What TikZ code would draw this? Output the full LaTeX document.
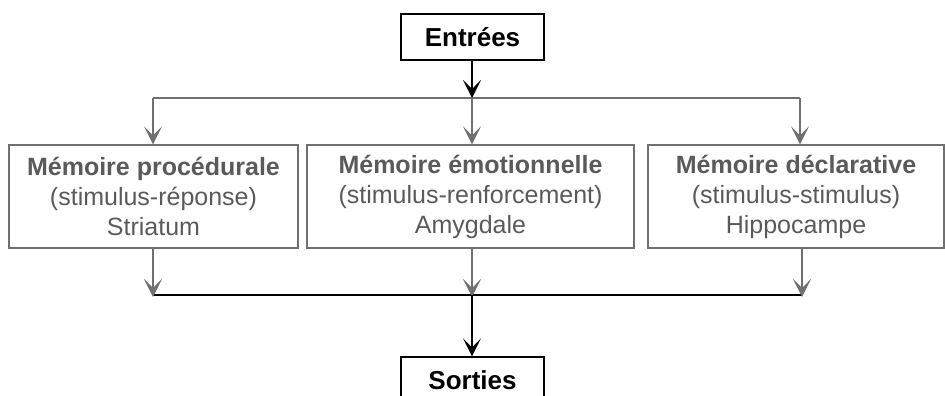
\documentclass[tikz,border=0pt]{standalone}
\usepackage{fontspec}
\setmainfont{Liberation Sans}
\usetikzlibrary{arrows.meta}
\definecolor{lg}{HTML}{707070}
\definecolor{tg}{HTML}{5A5A5A}
\begin{document}
\begin{tikzpicture}[x=1pt,y=-1pt,
  io/.style={draw=black,line width=1.3pt,inner sep=0pt,minimum width=143pt,minimum height=46pt,font=\fontsize{26}{28}\selectfont\bfseries},
  mem/.style={draw=lg,line width=1.3pt,inner sep=0pt,minimum height=103pt,text=tg,align=center,font=\fontsize{25}{30}\selectfont},
  arr/.style={-{Stealth[length=18pt,width=18pt,inset=9pt]}},
  gl/.style={draw=lg,line width=1.4pt},
  bl/.style={draw=black,line width=1.4pt}]
\useasboundingbox (0,0) rectangle (945,396);
\node[io] (en) at (472.5,37) {Entrées};
\node[mem,minimum width=289pt] (b1) at (153.5,196.5) {\textbf{Mémoire procédurale}\\(stimulus-réponse)\\Striatum};
\node[mem,minimum width=327pt] (b2) at (470.5,196.5) {\textbf{Mémoire émotionnelle}\\(stimulus-renforcement)\\Amygdale};
\node[mem,minimum width=296pt] (b3) at (796,196.5) {\textbf{Mémoire déclarative}\\(stimulus-stimulus)\\Hippocampe};
\node[io] (so) at (472.5,380) {Sorties};
\coordinate (t1) at (153,98);
\coordinate (t2) at (472,98);
\coordinate (t3) at (800,98);
\coordinate (u1) at (153,295);
\coordinate (u2) at (472,295);
\coordinate (u3) at (802,295);
\draw[gl] (t1) -- (t3);
\draw[bl,arr] (en.south -| t2) -- (t2);
\draw[gl,arr] (t1) -- (t1 |- b1.north);
\draw[gl,arr] (t2) -- (t2 |- b2.north);
\draw[gl,arr] (t3) -- (t3 |- b3.north);
\draw[bl] (u1) -- (u3);
\draw[gl,arr] (u1 |- b1.south) -- ([yshift=-2pt]u1);
\draw[gl,arr] (u2 |- b2.south) -- ([yshift=-2pt]u2);
\draw[gl,arr] (u3 |- b3.south) -- ([yshift=-2pt]u3);
\draw[bl,arr] (u2) -- (so.north -| u2);
\end{tikzpicture}
\end{document}
